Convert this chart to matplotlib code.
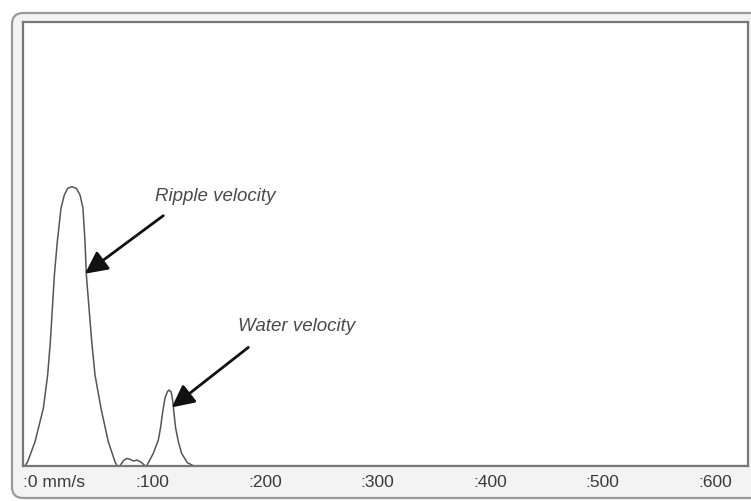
import matplotlib.pyplot as plt
from matplotlib.patches import FancyBboxPatch
from matplotlib.transforms import IdentityTransform

# velocity spectrum (mm/s, relative amplitude)
velocity = [0, 1.8, 4.1, 10.7, 18.1, 21.9, 24.3, 26.1, 27.9, 30.5, 33.8, 36.7, 39.7,
            43.3, 47.4, 50.7, 53.3, 55.1, 56.3, 58.7, 61.1, 64.0, 69.3, 75.8, 81.8,
            83.6, 86.2, 89.2, 92.2, 95.1, 98.0, 101.6, 105.5, 108.4, 110.0, 115.8,
            120.3, 122.4, 124.2, 126.2, 128.3, 129.8, 131.6, 133.0, 134.2, 135.7,
            138.1, 141.0, 146.0, 151.4, 644]
amplitude = [0, 0, 0.014, 0.086, 0.206, 0.325, 0.444, 0.564, 0.684, 0.803, 0.923, 0.970, 0.994,
             1.0, 0.994, 0.970, 0.923, 0.803, 0.684, 0.564, 0.444, 0.325, 0.206, 0.086, 0.014,
             0, 0, 0.018, 0.026, 0.023, 0.017, 0.020, 0.011, 0, 0, 0.044,
             0.092, 0.140, 0.194, 0.242, 0.265, 0.271, 0.265, 0.235, 0.188, 0.134,
             0.086, 0.044, 0.011, 0, 0]

tick_pos = [0, 100, 200, 300, 400, 500, 600]
tick_labels = [":0 mm/s", ":100", ":200", ":300", ":400", ":500", ":600"]

plt.rcParams['font.family'] = ['Liberation Sans', 'DejaVu Sans']

W, H = 751, 502
fig = plt.figure(figsize=(W / 100, H / 100), dpi=100)
fig.patch.set_facecolor('white')

# rounded outer frame (pixel coords), drawn behind the axes
frame = FancyBboxPatch((12, 3), 760, 485, boxstyle="round,pad=0,rounding_size=11",
                       transform=IdentityTransform(), facecolor='#f3f3f3',
                       edgecolor='#9a9a9a', linewidth=1.6, zorder=-5)
fig.add_artist(frame)

ax = fig.add_axes([23 / W, (H - 466.7) / H, (748 - 23) / W, (466.7 - 23) / H])
ax.set_zorder(1)
ax.set_facecolor('white')
ax.plot(velocity, amplitude, color='#555555', linewidth=1.1)
ax.set_xlim(0, 644.4)
ax.set_ylim(0, 1.59)

for s in ax.spines.values():
    s.set_color('#777777')
    s.set_linewidth(1.6)

ax.set_yticks([])
ax.set_xticks(tick_pos, tick_labels)
ax.tick_params(axis='x', length=0, pad=6, labelsize=12.5, labelcolor='#3a3a3a')
for lab in ax.get_xticklabels():
    lab.set_ha('left')

arrow = dict(arrowstyle='-|>,head_length=0.9,head_width=0.45', color='#111111',
             linewidth=2.0, mutation_scale=15, shrinkA=0, shrinkB=0)

ax.text(170.5, 0.967, "Ripple velocity", style='italic', fontsize=13.5,
        color='#4a4a4a', ha='center', va='center')
ax.annotate('', xy=(55.1, 0.688), xytext=(124.7, 0.896), arrowprops=arrow)

ax.text(243.6, 0.501, "Water velocity", style='italic', fontsize=13.5,
        color='#4a4a4a', ha='center', va='center')
ax.annotate('', xy=(132.2, 0.209), xytext=(200.3, 0.424), arrowprops=arrow)

plt.savefig('out.png', dpi=100)
